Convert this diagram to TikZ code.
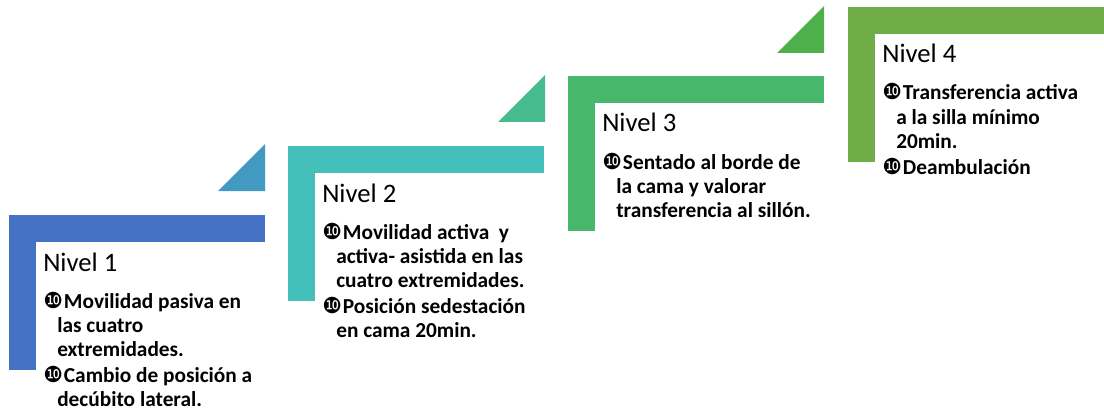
\documentclass[tikz,border=0pt]{standalone}
\usepackage{fontspec}
\setmainfont{Carlito}
\newfontfamily\dejavu{DejaVu Sans}
\definecolor{cA}{HTML}{4472C4}
\definecolor{tA}{HTML}{4299C2}
\definecolor{cB}{HTML}{45BFBA}
\definecolor{tB}{HTML}{45BB8E}
\definecolor{cC}{HTML}{47B86B}
\definecolor{tC}{HTML}{4DB04A}
\definecolor{cD}{HTML}{70AD47}
\tikzset{
  nivel/.style={anchor=base west, inner sep=0pt, font=\fontsize{20}{24}\selectfont},
  itemtext/.style={anchor=base west, align=left, inner sep=0pt, font=\bfseries\fontsize{16}{18}\selectfont},
  bul/.style={anchor=base west, inner sep=0pt, font=\dejavu\fontsize{16.5}{18}\selectfont},
}
\newcommand{\stepshape}[3]{% L, T, colour
  \fill[#3] (#1,#2) rectangle ++(256,27);
  \fill[#3] (#1,#2) rectangle ++(27,155);
}
\newcommand{\tri}[4]{% right, bottom, size, colour
  \fill[#4] (#1,#2) -- ++(-#3,0) -- ++(#3,-#3) -- cycle;
}
\begin{document}
\begin{tikzpicture}[x=0.75pt,y=-0.75pt]
\useasboundingbox (0,0) rectangle (1104,410);
% shapes
\stepshape{9}{215}{cA}
\tri{265}{191}{47}{tA}
\stepshape{288}{146}{cB}
\tri{545}{122}{47}{tB}
\stepshape{568}{76}{cC}
\tri{824}{53}{47}{tC}
\stepshape{848}{7}{cD}
% Nivel 1 (item nodes anchored at the baseline of their last line)
\node[nivel] (n1) at (43,271) {Nivel 1};
\node[bul] (b1a) at (43,308) {❿};
\node[itemtext] (i1a) at (57,356) {\hspace{5pt}Movilidad pasiva en\\las cuatro\\extremidades.};
\node[bul] (b1b) at (43,382) {❿};
\node[itemtext] (i1b) at (57,406) {\hspace{5pt}Cambio de posición a\\decúbito lateral.};
% Nivel 2
\node[nivel] (n2) at (322,202) {Nivel 2};
\node[bul] (b2a) at (322,239) {❿};
\node[itemtext] (i2a) at (336,287) {\hspace{5pt}Movilidad activa \ y\\activa- asistida en las\\cuatro extremidades.};
\node[bul] (b2b) at (322,313) {❿};
\node[itemtext] (i2b) at (336,337) {\hspace{5pt}Posición sedestación\\en cama 20min.};
% Nivel 3
\node[nivel] (n3) at (602,132) {Nivel 3};
\node[bul] (b3a) at (602,169) {❿};
\node[itemtext] (i3a) at (616,217) {\hspace{5pt}Sentado al borde de\\la cama y valorar\\transferencia al sillón.};
% Nivel 4
\node[nivel] (n4) at (882,63) {Nivel 4};
\node[bul] (b4a) at (882,100) {❿};
\node[itemtext] (i4a) at (896,148) {\hspace{5pt}Transferencia activa\\a la silla mínimo\\20min.};
\node[bul] (b4b) at (882,174) {❿};
\node[itemtext] (i4b) at (896,174) {\hspace{5pt}Deambulación};
\end{tikzpicture}
\end{document}
